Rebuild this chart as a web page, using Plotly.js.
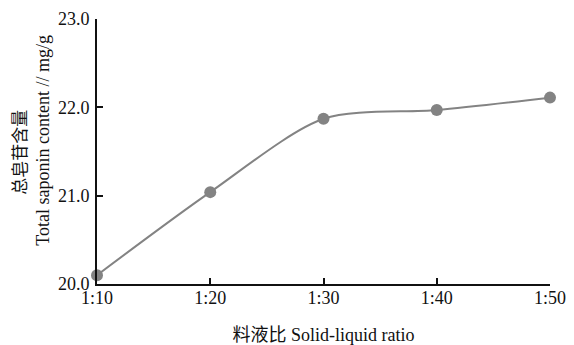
<!DOCTYPE html>
<html>
<head>
<meta charset="utf-8">
<script src="https://cdn.plot.ly/plotly-3.0.1.min.js"></script>
<style>html,body{margin:0;padding:0;background:#fff;}</style>
</head>
<body>
<div id="chart" style="width:574px;height:345px;"></div>
<script>
const ratioValues = [10, 20, 30, 40, 50];
const ratioLabels = ['1:10', '1:20', '1:30', '1:40', '1:50'];
const saponinContent = [20.10, 21.04, 21.87, 21.97, 22.11];
const yTickValues = [20, 21, 22, 23];
const yTickLabels = ['20.0', '21.0', '22.0', '23.0'];

const fontFam = '"Liberation Serif", "Noto Sans CJK SC", serif';

const trace = {
  x: ratioValues,
  y: saponinContent,
  type: 'scatter',
  mode: 'lines+markers',
  line: {color: '#838383', width: 2, shape: 'spline', smoothing: 0.8},
  marker: {color: '#838383', size: 12},
  cliponaxis: false,
  hoverinfo: 'skip'
};

const layout = {
  width: 574,
  height: 345,
  margin: {l: 97, r: 24, t: 19, b: 61},
  paper_bgcolor: '#ffffff',
  plot_bgcolor: '#ffffff',
  showlegend: false,
  font: {family: fontFam, color: '#111111', size: 18},
  xaxis: {
    range: [10, 50],
    tickvals: ratioValues,
    ticktext: ratioLabels,
    ticks: 'inside',
    ticklen: 6,
    tickwidth: 2,
    tickcolor: '#111',
    showline: true,
    linecolor: '#111',
    linewidth: 2,
    showgrid: false,
    zeroline: false,
    tickfont: {family: fontFam, size: 18, color: '#111'},
    ticklabelstandoff: -4,
    title: {text: '料液比 Solid-liquid ratio', font: {family: fontFam, size: 18, color: '#111'}, standoff: 24}
  },
  yaxis: {
    range: [20, 23],
    tickvals: yTickValues,
    ticktext: yTickLabels,
    ticks: 'inside',
    ticklen: 6,
    tickwidth: 2,
    tickcolor: '#111',
    showline: true,
    linecolor: '#111',
    linewidth: 2,
    showgrid: false,
    zeroline: false,
    tickfont: {family: fontFam, size: 18, color: '#111'},
    ticklabelstandoff: 2
  },
  annotations: [
    {
      text: '总皂苷含量', xref: 'paper', yref: 'paper',
      x: -0.174, y: 0.496, xanchor: 'center', yanchor: 'middle',
      textangle: -90, showarrow: false,
      font: {family: '"Noto Sans CJK SC", sans-serif', size: 17, color: '#111'}
    },
    {
      text: 'Total saponin content // mg/g', xref: 'paper', yref: 'paper',
      x: -0.121, y: 0.541, xanchor: 'center', yanchor: 'middle',
      textangle: -90, showarrow: false,
      font: {family: fontFam, size: 18, color: '#111'}
    }
  ]
};

Plotly.newPlot('chart', [trace], layout, {displayModeBar: false, staticPlot: true});
</script>
</body>
</html>
